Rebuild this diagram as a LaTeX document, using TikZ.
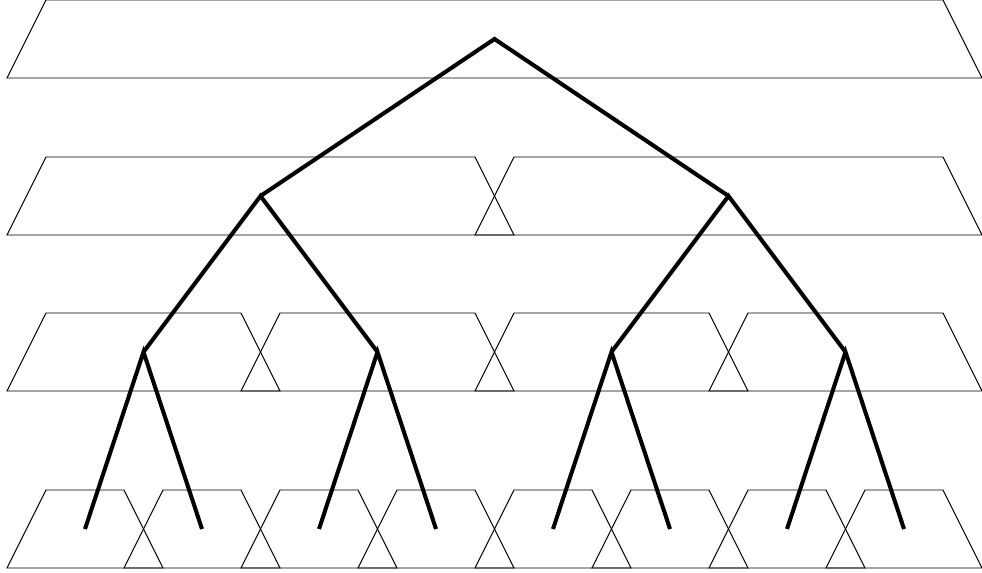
\documentclass[tikz,border=0pt]{standalone}
\begin{document}
\begin{tikzpicture}[x=0.02cm, y=-0.02cm,
		trap/.style={line width=0.55pt},
		branch/.style={line width=2.3pt, line join=miter}]
	\useasboundingbox (0,0) rectangle (982,573);
	% one row of trapezoids per level, a point in the middle of each
	\foreach \l/\yt in {0/0,1/157,2/313,3/490}{
		\pgfmathtruncatemacro\n{2^\l}
		\pgfmathsetmacro\w{(975+(\n-1)*39)/\n}
		\foreach \k in {1,...,\n}{
			\pgfmathsetmacro\bl{7+(\k-1)*(\w-39)}
			\draw[trap] (\bl,\yt+78) -- ++(39,-78) -- ++(\w-78,0) -- ++(39,78) -- cycle;
			\coordinate (v\l-\k) at (\bl+\w/2,\yt+39);
		}
	}
	% branches
	\foreach \l in {0,1,2}{
		\pgfmathtruncatemacro\n{2^\l}
		\pgfmathtruncatemacro\m{\l+1}
		\foreach \k in {1,...,\n}{
			\pgfmathtruncatemacro\a{2*\k-1}
			\pgfmathtruncatemacro\b{2*\k}
			\draw[branch] (v\m-\a) -- (v\l-\k) -- (v\m-\b);
		}
	}
\end{tikzpicture}
\end{document}
